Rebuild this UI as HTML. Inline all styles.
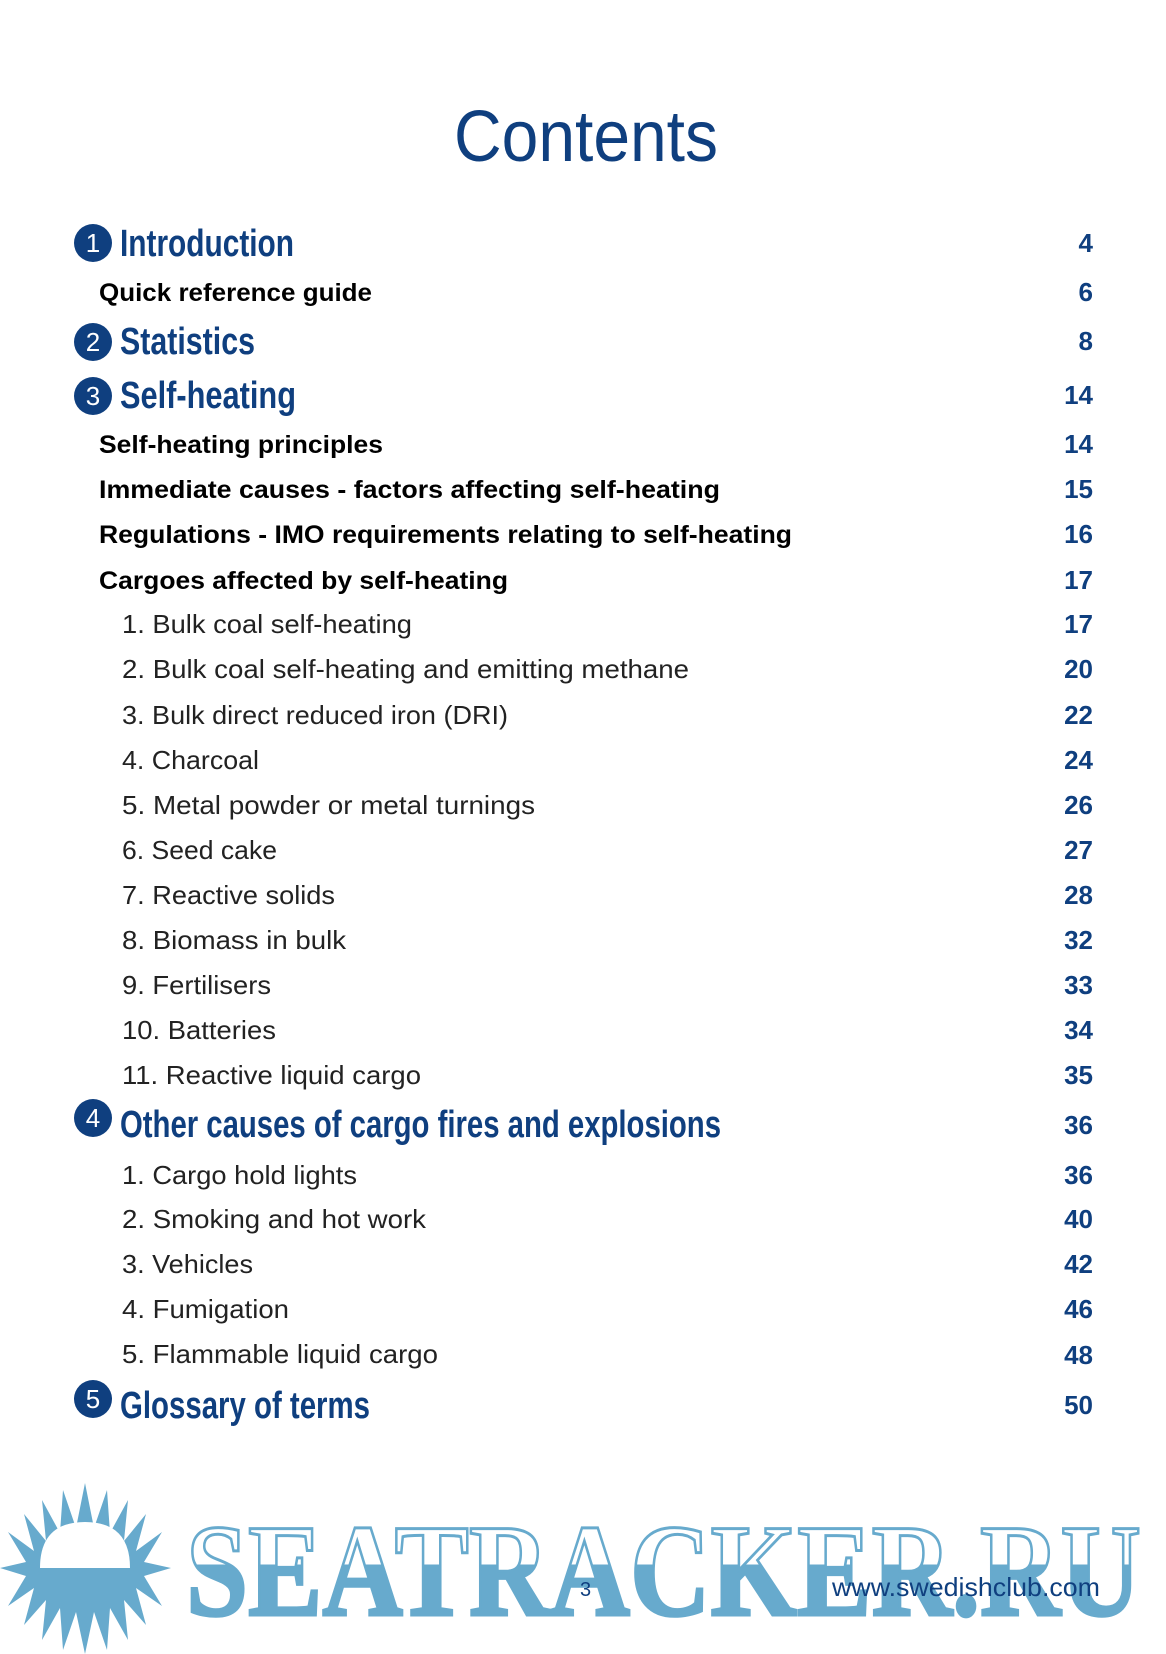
<!DOCTYPE html>
<html><head><meta charset="utf-8"><style>html,body{margin:0;padding:0;background:#fff}svg{display:block}</style></head>
<body>
<svg width="1166" height="1654" viewBox="0 0 1166 1654" xmlns="http://www.w3.org/2000/svg">
<defs>
<linearGradient id="wm" x1="0" y1="0" x2="0" y2="1">
<stop offset="0" stop-color="#fff"/><stop offset="0.46" stop-color="#fff"/><stop offset="0.46" stop-color="#67aacd"/><stop offset="1" stop-color="#67aacd"/>
</linearGradient>
</defs>
<g font-family="'Liberation Sans Narrow','Liberation Sans',sans-serif" fill="#0f3f7f">
<text x="454" y="161" font-size="72" textLength="264" lengthAdjust="spacingAndGlyphs">Contents</text>
</g>
<g fill="#0f3f7f">
<circle cx="93" cy="243" r="19"/><circle cx="93" cy="342" r="19"/><circle cx="93" cy="396" r="19"/><circle cx="93" cy="1118" r="19"/><circle cx="93" cy="1399" r="19"/>
</g>
<g font-family="'Liberation Sans Narrow','Liberation Sans',sans-serif" fill="#fff" font-size="26" text-anchor="middle">
<text x="93" y="252">1</text><text x="93" y="351">2</text><text x="93" y="405">3</text><text x="93" y="1127">4</text><text x="93" y="1408">5</text>
</g>
<g font-family="'Liberation Sans Narrow','Liberation Sans',sans-serif" font-weight="bold" fill="#0f3f7f" font-size="38">
<text x="120" y="256" textLength="174" lengthAdjust="spacingAndGlyphs">Introduction</text>
<text x="120" y="354" textLength="135" lengthAdjust="spacingAndGlyphs">Statistics</text>
<text x="120" y="408" textLength="176" lengthAdjust="spacingAndGlyphs">Self-heating</text>
<text x="120" y="1137" textLength="601" lengthAdjust="spacingAndGlyphs">Other causes of cargo fires and explosions</text>
<text x="120" y="1418" textLength="250" lengthAdjust="spacingAndGlyphs">Glossary of terms</text>
</g>
<g font-family="'Liberation Sans',sans-serif" font-weight="bold" fill="#000" font-size="25">
<text x="99" y="301" textLength="273" lengthAdjust="spacingAndGlyphs">Quick reference guide</text>
<text x="99" y="453" textLength="284" lengthAdjust="spacingAndGlyphs">Self-heating principles</text>
<text x="99" y="498" textLength="621" lengthAdjust="spacingAndGlyphs">Immediate causes - factors affecting self-heating</text>
<text x="99" y="543" textLength="693" lengthAdjust="spacingAndGlyphs">Regulations - IMO requirements relating to self-heating</text>
<text x="99" y="589" textLength="409" lengthAdjust="spacingAndGlyphs">Cargoes affected by self-heating</text>
</g>
<g font-family="'Liberation Sans',sans-serif" fill="#222" font-size="26">
<text x="122" y="633" textLength="290" lengthAdjust="spacingAndGlyphs">1. Bulk coal self-heating</text>
<text x="122" y="678" textLength="567" lengthAdjust="spacingAndGlyphs">2. Bulk coal self-heating and emitting methane</text>
<text x="122" y="724" textLength="386" lengthAdjust="spacingAndGlyphs">3. Bulk direct reduced iron (DRI)</text>
<text x="122" y="769" textLength="137" lengthAdjust="spacingAndGlyphs">4. Charcoal</text>
<text x="122" y="814" textLength="413" lengthAdjust="spacingAndGlyphs">5. Metal powder or metal turnings</text>
<text x="122" y="859" textLength="155" lengthAdjust="spacingAndGlyphs">6. Seed cake</text>
<text x="122" y="904" textLength="213" lengthAdjust="spacingAndGlyphs">7. Reactive solids</text>
<text x="122" y="949" textLength="224" lengthAdjust="spacingAndGlyphs">8. Biomass in bulk</text>
<text x="122" y="994" textLength="149" lengthAdjust="spacingAndGlyphs">9. Fertilisers</text>
<text x="122" y="1039" textLength="154" lengthAdjust="spacingAndGlyphs">10. Batteries</text>
<text x="122" y="1084" textLength="299" lengthAdjust="spacingAndGlyphs">11. Reactive liquid cargo</text>
<text x="122" y="1184" textLength="235" lengthAdjust="spacingAndGlyphs">1. Cargo hold lights</text>
<text x="122" y="1228" textLength="304" lengthAdjust="spacingAndGlyphs">2. Smoking and hot work</text>
<text x="122" y="1273" textLength="131" lengthAdjust="spacingAndGlyphs">3. Vehicles</text>
<text x="122" y="1318" textLength="167" lengthAdjust="spacingAndGlyphs">4. Fumigation</text>
<text x="122" y="1363" textLength="316" lengthAdjust="spacingAndGlyphs">5. Flammable liquid cargo</text>
</g>
<g font-family="'Liberation Sans',sans-serif" font-weight="bold" fill="#0f3f7f" font-size="26" text-anchor="end">
<text x="1093" y="252">4</text><text x="1093" y="301">6</text><text x="1093" y="350">8</text>
<text x="1093" y="404">14</text><text x="1093" y="453">14</text><text x="1093" y="498">15</text><text x="1093" y="543">16</text><text x="1093" y="589">17</text>
<text x="1093" y="633">17</text><text x="1093" y="678">20</text><text x="1093" y="724">22</text><text x="1093" y="769">24</text><text x="1093" y="814">26</text><text x="1093" y="859">27</text><text x="1093" y="904">28</text><text x="1093" y="949">32</text><text x="1093" y="994">33</text><text x="1093" y="1039">34</text><text x="1093" y="1084">35</text>
<text x="1093" y="1134">36</text><text x="1093" y="1184">36</text><text x="1093" y="1228">40</text><text x="1093" y="1273">42</text><text x="1093" y="1318">46</text><text x="1093" y="1364">48</text><text x="1093" y="1414">50</text>
</g>
<!-- watermark -->
<polygon fill="#67aacd" points="85,1483 94,1528 107,1490 110,1533 128,1500 124,1541 146,1514 136,1551 162,1532 144,1562 171,1568 144,1576 162,1606 136,1588 146,1625 124,1600 128,1640 110,1608 107,1650 94,1612 85,1654 76,1612 63,1650 60,1608 42,1640 46,1600 24,1625 34,1588 8,1606 26,1576 0,1568 26,1562 8,1532 34,1551 24,1514 46,1541 42,1500 60,1533 63,1490 76,1528"/>
<path d="M40,1568 Q40,1522 85,1522 Q130,1522 130,1568 Z" fill="#fff"/>
<text x="186" y="1615" font-family="'Liberation Serif',serif" font-weight="bold" font-size="132" textLength="955" lengthAdjust="spacingAndGlyphs" fill="url(#wm)" stroke="#67aacd" stroke-width="3">SEATRACKER.RU</text>
<text x="580" y="1596" font-family="'Liberation Sans',sans-serif" font-size="20" fill="#0f3f7f">3</text>
<text x="832" y="1596" font-family="'Liberation Sans Narrow','Liberation Sans',sans-serif" font-size="26" fill="#0f3f7f" textLength="268" lengthAdjust="spacingAndGlyphs">www.swedishclub.com</text>
</svg>
</body></html>
